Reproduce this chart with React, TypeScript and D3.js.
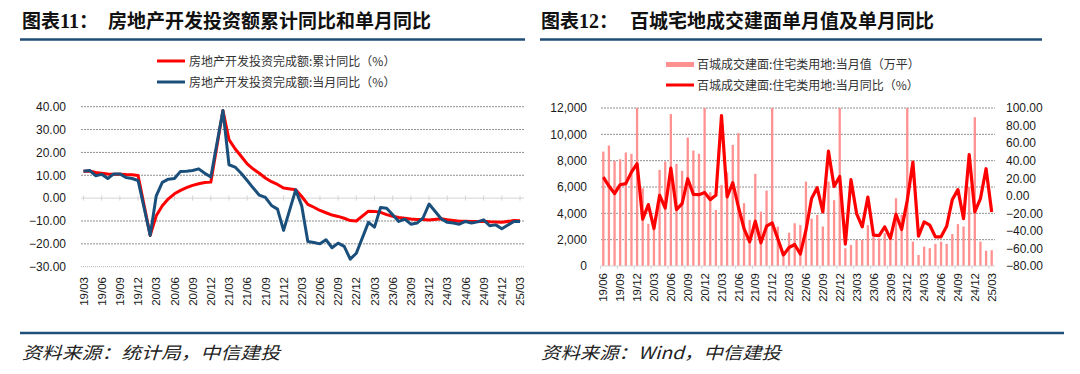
import React from 'react';
import * as d3 from 'd3';

// ---------- Data ----------
const leftMonths: string[] = d3.timeMonth
  .range(new Date(2019, 2, 1), new Date(2025, 3, 1))
  .map(d3.timeFormat('%y/%m'));
// 房地产开发投资完成额:累计同比(%) 19/03..25/03 (January not published)
const cumYoY: (number | null)[] = [
  11.8, 11.9, 11.2, 10.9, 10.6, 10.5, 10.5, 10.3, 10.2, 9.9,
  null, -16.3, -7.7, -3.3, -0.3, 1.9, 3.4, 4.6, 5.6, 6.3, 6.8, 7.0,
  null, 38.3, 25.6, 21.6, 18.3, 15.0, 12.7, 10.9, 8.8, 7.2, 6.0, 4.4,
  null, 3.7, 0.7, -2.7, -4.0, -5.4, -6.4, -7.4, -8.0, -8.8, -9.8, -10.0,
  null, -5.7, -5.8, -6.2, -7.2, -7.9, -8.5, -8.8, -9.1, -9.3, -9.4, -9.6,
  null, -9.0, -9.5, -9.8, -10.1, -10.1, -10.2, -10.2, -10.1, -10.3, -10.4, -10.6,
  null, -9.8, -9.9,
];
// 房地产开发投资完成额:当月同比(%)
const monYoY: (number | null)[] = [
  11.8, 12.1, 9.8, 10.4, 8.6, 10.6, 10.6, 9.0, 8.6, 7.7,
  null, -16.3, 1.0, 6.9, 8.3, 8.6, 11.7, 11.8, 12.1, 12.8, 10.9, 9.2,
  null, 38.3, 14.6, 13.6, 10.9, 7.7, 4.4, 1.3, 0.3, -3.2, -4.8, -14.1,
  null, 3.6, -3.4, -19.0, -19.4, -20.0, -18.2, -21.7, -19.7, -21.1, -26.7, -24.1,
  null, -10.6, -12.7, -4.1, -4.4, -7.3, -10.2, -9.2, -11.4, -10.9, -8.7, -2.6,
  null, -9.0, -10.6, -10.9, -11.4, -10.2, -10.9, -10.4, -9.5, -12.1, -11.7, -13.4,
  null, -10.2, -10.2,
];
const leftYTicks = [40, 30, 20, 10, 0, -10, -20, -30];

const rightMonths: string[] = d3.timeMonth
  .range(new Date(2019, 5, 1), new Date(2025, 3, 1))
  .map(d3.timeFormat('%y/%m'));
// 百城成交建面:住宅类用地:当月值(万平) 19/06..25/03
const landArea: number[] = [
  8690, 9150, 7990, 8110, 8620, 8520, 12500, 5910, 3200, 2900,
  7300, 7930, 11540, 7760, 7225, 9760, 8770, 8520, 12500, 5600,
  4260, 6160, 7120, 9200, 10090, 4770, 3500, 7000, 4130, 5730,
  12500, 2990, 700, 2530, 3245, 3110, 6410, 3600, 3880, 3000,
  6410, 5000, 12500, 1346, 1600, 1980, 1980, 3100, 2200, 2100,
  2500, 2000, 5150, 3880, 12500, 1850, 836, 1470, 1350, 1680,
  1850, 1680, 2430, 3180, 3000, 6000, 11300, 1850, 1160, 1200,
];
// 百城成交建面:住宅类用地:当月同比(%)
const landYoY: number[] = [
  21.3, 11.1, 2.4, 12.6, 13.8, 26.9, 36.5, -26.7, -10.0, -37.3,
  0.6, -13.9, 31.5, -15.7, -8.9, 19.4, 1.6, 1.3, 3.6, -4.4,
  0.5, 91.3, -1.4, 14.9, -12.8, -37.3, -52.5, -29.0, -53.6, -34.7,
  -30.9, -49.0, -67.6, -58.9, -55.5, -66.4, -39.2, -3.2, 9.2, -18.4,
  50.8, 10.7, 22.0, -55.1, 18.3, -20.3, -35.4, -1.4, -44.9, -45.3,
  -35.4, -48.6, -21.0, -38.4, -5.2, 38.3, -46.0, -29.8, -33.5, -46.8,
  -46.8, -34.7, -4.4, 7.0, -26.0, 47.0, -18.4, -3.2, 30.8, -18.4,
];
const rightAreaTicks = [0, 2000, 4000, 6000, 8000, 10000, 12000];
const rightPctTicks = [100, 80, 60, 40, 20, 0, -20, -40, -60, -80];

const leftLegend = ['房地产开发投资完成额:累计同比（%）', '房地产开发投资完成额:当月同比（%）'];
const rightLegend = ['百城成交建面:住宅类用地:当月值（万平）', '百城成交建面:住宅类用地:当月同比（%）'];

// ---------- Style ----------
const NUM_FONT = '"Liberation Sans", Arial, sans-serif';
const CJK_FONT = '"Noto Sans CJK SC", sans-serif';
const RED = '#ff0000';
const BLUE = '#1b4f7b';
const BAR = '#ff9191';
const GRID = '#8f8f8f';
const TXT = '#1a1a1a';
const RULE = '#1f4e79';

export default function App() {
  // Left chart scales
  const xL = d3.scalePoint<string>().domain(leftMonths).range([83.5, 520]);
  const yL = d3.scaleLinear().domain([-30, 40]).range([266.7, 106.7]);
  const lineL = d3
    .line<[string, number]>()
    .x((d) => xL(d[0]) as number)
    .y((d) => yL(d[1]));
  const pairs = (vals: (number | null)[]) =>
    leftMonths.map((m, i) => [m, vals[i]] as [string, number | null]).filter((d) => d[1] !== null) as [string, number][];
  const leftTickLabels = leftMonths.filter((_, i) => i % 3 === 0);

  // Right chart scales
  const xR = d3.scalePoint<string>().domain(rightMonths).range([603.3, 991.7]);
  const yA = d3.scaleLinear().domain([0, 12000]).range([266, 108]).clamp(true);
  const yP = d3.scaleLinear().domain([-80, 100]).range([266, 108]);
  const lineR = d3
    .line<number>()
    .x((_, i) => xR(rightMonths[i]) as number)
    .y((d) => yP(d));
  const rightTickLabels = rightMonths.filter((_, i) => i % 3 === 0);
  const stepR = xR.step();

  return (
    <svg
      width={1080}
      height={374}
      style={{ position: 'absolute', left: 0, top: 0, background: '#fff' }}
      xmlns="http://www.w3.org/2000/svg"
    >
      {/* Titles */}
      <text x={22} y={28} fontFamily={CJK_FONT} fontWeight={700} fontSize={19} fill="#111">
        图表<tspan fontFamily='"Liberation Serif", serif' fontSize={20}>11</tspan>：
      </text>
      <text x={108} y={28} fontFamily={CJK_FONT} fontWeight={700} fontSize={19} fill="#111">
        房地产开发投资额累计同比和单月同比
      </text>
      <text x={541} y={28} fontFamily={CJK_FONT} fontWeight={700} fontSize={19} fill="#111">
        图表<tspan fontFamily='"Liberation Serif", serif' fontSize={20}>12</tspan>：
      </text>
      <text x={630} y={28} fontFamily={CJK_FONT} fontWeight={700} fontSize={19} fill="#111">
        百城宅地成交建面单月值及单月同比
      </text>
      <line x1={20} x2={525} y1={39.5} y2={39.5} stroke={RULE} strokeWidth={2.5} />
      <line x1={540} x2={1042} y1={39.5} y2={39.5} stroke={RULE} strokeWidth={2.5} />

      {/* ---------- Left chart ---------- */}
      {/* Legend */}
      <line x1={157} x2={185} y1={61} y2={61} stroke={RED} strokeWidth={3} />
      <text x={189} y={65.5} fontFamily={CJK_FONT} fontSize={12} fill="#333">{leftLegend[0]}</text>
      <line x1={157} x2={185} y1={82} y2={82} stroke={BLUE} strokeWidth={3} />
      <text x={189} y={86.5} fontFamily={CJK_FONT} fontSize={12} fill="#333">{leftLegend[1]}</text>

      {leftYTicks.map((t) => (
        <g key={'ly' + t}>
          {t !== 0 && (
            <line x1={81} x2={524} y1={yL(t)} y2={yL(t)} stroke={t === -30 ? '#b5b5b5' : GRID} strokeWidth={1} strokeDasharray={t === -30 ? '1,1' : '2,1'} />
          )}
          <text x={66} y={yL(t)} dy="0.36em" textAnchor="end" fontFamily={NUM_FONT} fontSize={12} fill={TXT}>
            {d3.format('.2f')(t)}
          </text>
        </g>
      ))}
      {/* zero axis with ticks */}
      <line x1={81} x2={524} y1={yL(0)} y2={yL(0)} stroke="#d4d4d4" strokeWidth={1} />
      {leftTickLabels.map((m) => (
        <line key={'lt' + m} x1={xL(m)} x2={xL(m)} y1={yL(0) - 2.5} y2={yL(0) + 2.5} stroke="#d4d4d4" strokeWidth={1} />
      ))}
      <path d={lineL(pairs(cumYoY)) || ''} fill="none" stroke={RED} strokeWidth={3} strokeLinejoin="round" />
      <path d={lineL(pairs(monYoY)) || ''} fill="none" stroke={BLUE} strokeWidth={3} strokeLinejoin="round" />
      {leftTickLabels.map((m) => (
        <text
          key={'lx' + m}
          transform={`translate(${xL(m)},277) rotate(-90)`}
          textAnchor="end"
          dy="0.36em"
          fontFamily={NUM_FONT}
          fontSize={11.5}
          fill={TXT}
        >
          {m}
        </text>
      ))}

      {/* ---------- Right chart ---------- */}
      <rect x={666} y={62} width={28} height={5} fill={BAR} />
      <text x={697} y={68.5} fontFamily={CJK_FONT} fontSize={12} fill="#333">{rightLegend[0]}</text>
      <line x1={666} x2={694} y1={85} y2={85} stroke={RED} strokeWidth={3} />
      <text x={697} y={89.5} fontFamily={CJK_FONT} fontSize={12} fill="#333">{rightLegend[1]}</text>

      {rightAreaTicks.map((t) => (
        <g key={'ra' + t}>
          {t !== 0 && (
            <line x1={601} x2={995} y1={yA(t)} y2={yA(t)} stroke={GRID} strokeWidth={1} strokeDasharray="2,1" />
          )}
          <text x={587} y={yA(t)} dy="0.36em" textAnchor="end" fontFamily={NUM_FONT} fontSize={12} fill={TXT}>
            {d3.format(',')(t)}
          </text>
        </g>
      ))}
      {rightPctTicks.map((t) => (
        <text key={'rp' + t} x={1006} y={yP(t)} dy="0.36em" textAnchor="start" fontFamily={NUM_FONT} fontSize={12} fill={TXT}>
          {d3.format('.2f')(t)}
        </text>
      ))}
      {landArea.map((v, i) => (
        <rect
          key={'b' + i}
          x={(xR(rightMonths[i]) as number) - 1.15}
          width={2.3}
          y={yA(v)}
          height={yA(0) - yA(v)}
          fill={BAR}
        />
      ))}
      <line x1={601} x2={995} y1={yA(0)} y2={yA(0)} stroke="#d4d4d4" strokeWidth={1} />
      {rightTickLabels.map((m) => (
        <line
          key={'rt' + m}
          x1={(xR(m) as number) - stepR / 2}
          x2={(xR(m) as number) - stepR / 2}
          y1={yA(0)}
          y2={yA(0) + 3}
          stroke="#d4d4d4"
          strokeWidth={1}
        />
      ))}
      <path d={lineR(landYoY) || ''} fill="none" stroke={RED} strokeWidth={3.2} strokeLinejoin="round" />
      {rightTickLabels.map((m) => (
        <text
          key={'rx' + m}
          transform={`translate(${xR(m)},273) rotate(-90)`}
          textAnchor="end"
          dy="0.36em"
          fontFamily={NUM_FONT}
          fontSize={11.5}
          fill={TXT}
        >
          {m}
        </text>
      ))}

      {/* Footer */}
      <line x1={20} x2={1064} y1={333} y2={333} stroke={RULE} strokeWidth={2.5} />
      <text x={22} y={359} fontFamily={CJK_FONT} fontStyle="italic" fontSize={17} fill="#222" textLength={258} lengthAdjust="spacingAndGlyphs">
        资料来源：统计局，中信建投
      </text>
      <text x={541} y={359} fontFamily={CJK_FONT} fontStyle="italic" fontSize={17} fill="#222" textLength={240} lengthAdjust="spacingAndGlyphs">
        资料来源：Wind，中信建投
      </text>
    </svg>
  );
}
